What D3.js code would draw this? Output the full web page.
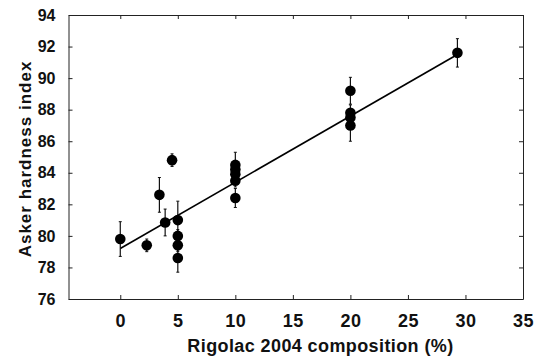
<!DOCTYPE html>
<html lang="en">
  <head>
    <meta charset="utf-8">
    <title>Asker hardness vs Rigolac 2004</title>
    <script src="https://d3js.org/d3.v7.min.js"></script>
    <style type="text/css">
      body { margin: 0; background: #fff; }
      text { font-family: "Liberation Sans", Arial, sans-serif; font-weight: bold; fill: #111; }
    </style>
  </head>
<body>
<svg width="542" height="360"></svg>
<script>

// data
var composition = [0, 2.3, 3.4, 3.9, 4.5, 5, 5, 5, 5, 10, 10, 10, 10, 10, 20, 20, 20, 20, 29.3];
var hardness    = [79.8, 79.4, 82.6, 80.85, 84.8, 81.0, 80.0, 79.4, 78.6, 84.5, 84.2, 83.9, 83.5, 82.4, 89.2, 87.8, 87.5, 87.0, 91.6];
var errors      = [1.1, 0.4, 1.1, 0.85, 0.4, 1.2, 0.4, 0.4, 0.9, 0.8, 0.4, 0.4, 0.4, 0.6, 0.85, 0.5, 0.5, 1.0, 0.9];
var fitX = [0, 29.3],
    fitY = [79.2, 91.5];
var xTicks = [0, 5, 10, 15, 20, 25, 30, 35];
var yTicks = [76, 78, 80, 82, 84, 86, 88, 90, 92, 94];

var svg = d3.select("svg"),
    margin = {top: 15, right: 19, bottom: 61, left: 68.5},
    w = +svg.attr("width") - margin.left - margin.right,
    h = +svg.attr("height") - margin.top - margin.bottom;

var xScale = d3.scaleLinear().domain([-4.5, 35]).range([0, w]),
    yScale = d3.scaleLinear().domain([76, 94]).range([h, 0]);

var g = svg.append("g")
    .attr("transform", "translate(" + margin.left + "," + margin.top + ")");

// axes, ticks pointing inward
g.append("g")
    .attr("class", "axis x-axis")
    .attr("transform", "translate(0," + h + ")")
    .call(d3.axisBottom(xScale).tickValues(xTicks).tickSize(-4).tickSizeOuter(0).tickPadding(15));

g.append("g")
    .attr("class", "axis y-axis")
    .call(d3.axisLeft(yScale).tickValues(yTicks).tickSize(-4).tickSizeOuter(0).tickPadding(13));

g.append("g")
    .call(d3.axisTop(xScale).tickValues(xTicks).tickSize(-4).tickSizeOuter(0).tickFormat(""));

g.append("g")
    .attr("transform", "translate(" + w + ",0)")
    .call(d3.axisRight(yScale).tickValues(yTicks).tickSize(-4).tickSizeOuter(0).tickFormat(""));

svg.selectAll(".domain").attr("stroke", "#222");
svg.selectAll(".tick line").attr("stroke", "#222");

d3.selectAll(".x-axis .tick text")
    .attr("font-size", "18px")
    .attr("letter-spacing", "0.5px")
    .attr("font-family", null);
d3.selectAll(".y-axis .tick text")
    .attr("font-size", "16px")
    .attr("font-family", null);

// fit line
g.append("line")
    .attr("x1", xScale(fitX[0]))
    .attr("y1", yScale(fitY[0]))
    .attr("x2", xScale(fitX[1]))
    .attr("y2", yScale(fitY[1]))
    .attr("stroke", "#000")
    .attr("stroke-width", 1.6);

var pts = composition.map(function(c, i) {
  return {x: c, y: hardness[i], e: errors[i]};
});

// error bars
var eb = g.selectAll(".err")
  .data(pts)
  .enter().append("g")
    .attr("class", "err");

eb.append("line")
    .attr("x1", function(d) { return xScale(d.x); })
    .attr("x2", function(d) { return xScale(d.x); })
    .attr("y1", function(d) { return yScale(d.y - d.e); })
    .attr("y2", function(d) { return yScale(d.y + d.e); })
    .attr("stroke", "#111")
    .attr("stroke-width", 1.2);

[-1, 1].forEach(function(s) {
  eb.append("line")
      .attr("x1", function(d) { return xScale(d.x) - 1.5; })
      .attr("x2", function(d) { return xScale(d.x) + 1.5; })
      .attr("y1", function(d) { return yScale(d.y + s * d.e); })
      .attr("y2", function(d) { return yScale(d.y + s * d.e); })
      .attr("stroke", "#111")
      .attr("stroke-width", 1);
});

// points
g.selectAll(".dot")
  .data(pts)
  .enter().append("circle")
    .attr("class", "dot")
    .attr("cx", function(d) { return xScale(d.x); })
    .attr("cy", function(d) { return yScale(d.y); })
    .attr("r", 5.3)
    .attr("fill", "#000");

// axis titles
svg.append("text")
    .attr("x", margin.left + xScale(17.4))
    .attr("y", 352)
    .attr("text-anchor", "middle")
    .attr("font-size", "18px")
    .attr("letter-spacing", "0.4px")
    .text("Rigolac 2004 composition (%)");

svg.append("text")
    .attr("transform", "translate(31,159) rotate(-90)")
    .attr("text-anchor", "middle")
    .attr("font-size", "17px")
    .attr("letter-spacing", "1px")
    .text("Asker hardness index");

</script>
</body>
</html>
